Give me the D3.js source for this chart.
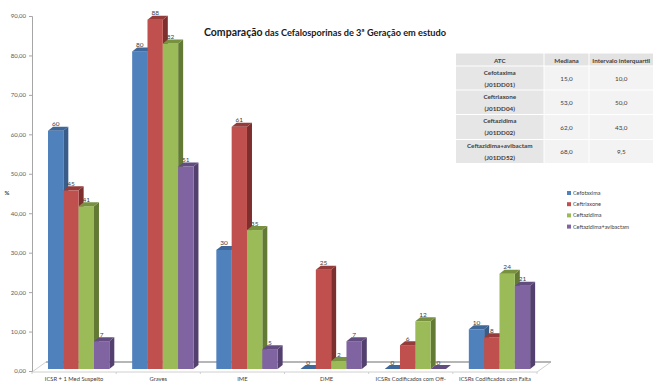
<!DOCTYPE html>
<html>
<head>
<meta charset="utf-8">
<script src="https://cdn.jsdelivr.net/npm/d3@7"></script>
<style>
  html, body { margin: 0; padding: 0; background: #fff; }
  svg { display: block; font-family: Lato, sans-serif; }
</style>
</head>
<body>
<svg id="chart" width="654" height="383"></svg>
<script>
const categories = ["ICSR + 1 Med Suspeito", "Graves", "IME", "DME", "ICSRs Codificados com Off-", "ICSRs Codificados com Falta"];
const seriesNames = ["Cefotaxima", "Ceftriaxone", "Ceftazidima", "Ceftazidima+avibactam"];
const cefotaxima = [60, 80, 30, 0, 0, 10];
const ceftriaxone = [45, 88, 61, 25, 6, 8];
const ceftazidima = [41, 82, 35, 2, 12, 24];
const avibactam = [7, 51, 5, 7, 0, 21];
const seriesValues = [cefotaxima, ceftriaxone, ceftazidima, avibactam];
const yTicks = [0, 10, 20, 30, 40, 50, 60, 70, 80, 90];

const tableHeader = ["ATC", "Mediana", "Intervalo interquartil"];
const tableDrugs = [["Cefotaxima", "(J01DD01)"], ["Ceftriaxone", "(J01DD04)"], ["Ceftazidima", "(J01DD02)"], ["Ceftazidima+avibactam", "(J01DD52)"]];
const tableMedians = ["15,0", "53,0", "62,0", "68,0"];
const tableIqr = ["10,0", "50,0", "43,0", "9,5"];

const colors = ["#4f81bd", "#c0504d", "#9bbb59", "#8064a2"];
const sideColors = ["#385d8a", "#7c2f2d", "#637a35", "#54406f"];
const topColors = ["#3f679a", "#953b39", "#77913f", "#634d80"];

const svg = d3.select("#chart");

// axis scale sits on the wall, bars stand a little further forward
const yAxisScale = d3.scaleLinear().domain([0, 90]).range([371, 16]);
const yBar = d3.scaleLinear().domain([0, 90]).range([369, 11.7]);
const x0 = d3.scaleBand().domain(categories).range([32, 537]);
const x1 = d3.scaleBand().domain(d3.range(4)).range([16, 77.3]);

const depthX = 5, depthY = 4;

// floor
const floorLeft = 32, floorRight = 537;
svg.append("path")
  .attr("d", `M${floorLeft},372L${floorLeft + 14},362L${floorRight + 14},362L${floorRight},372Z`)
  .attr("fill", "#fff").attr("stroke", "#d0d0d0").attr("stroke-width", 1);
svg.append("line")
  .attr("x1", floorLeft + 14).attr("x2", floorRight + 14).attr("y1", 362).attr("y2", 362)
  .attr("stroke", "#a6a6a6").attr("stroke-width", 1.5);

// category ticks along the front edge
svg.append("g").selectAll("line")
  .data(d3.range(categories.length + 1))
  .join("line")
  .attr("x1", i => floorLeft + i * x0.step()).attr("x2", i => floorLeft + i * x0.step())
  .attr("y1", 372).attr("y2", 374)
  .attr("stroke", "#d0d0d0");

// y axis
const yAxis = d3.axisLeft(yAxisScale)
  .tickValues(yTicks)
  .tickSize(3)
  .tickFormat(d => d3.format(".2f")(d).replace(".", ","));
const yG = svg.append("g").attr("transform", "translate(32,0)").call(yAxis);
yG.select(".domain").attr("stroke", "#a6a6a6");
yG.selectAll(".tick line").attr("stroke", "#a6a6a6");
yG.selectAll(".tick text")
  .attr("x", -6)
  .attr("fill", "#595959")
  .style("font-size", "6px")
  .style("font-family", "Lato, sans-serif");

svg.append("text")
  .attr("x", 7).attr("y", 195)
  .attr("text-anchor", "middle")
  .attr("fill", "#404040")
  .style("font-size", "6px").style("font-weight", "700")
  .text("%");

// bars, drawn left to right so each one overlaps its neighbour's side face
const barWidth = x1.bandwidth();
const bars = svg.append("g");
categories.forEach((cat, c) => {
  seriesValues.forEach((vals, s) => {
    const left = x0(cat) + x1(s);
    const right = left + barWidth;
    const top = yBar(vals[c]);
    const base = yBar(0);
    const g = bars.append("g");
    if (vals[c] > 0) {
      g.append("path")
        .attr("d", `M${right},${top}L${right + depthX},${top - depthY}L${right + depthX},${base - depthY}L${right},${base}Z`)
        .attr("fill", sideColors[s]);
      g.append("rect")
        .attr("x", left).attr("y", top)
        .attr("width", barWidth).attr("height", base - top)
        .attr("fill", colors[s]);
    }
    g.append("path")
      .attr("d", `M${left},${top}L${left + depthX},${top - depthY}L${right + depthX},${top - depthY}L${right},${top}Z`)
      .attr("fill", topColors[s]);
  });
});

// value labels go on top of every bar
const labels = svg.append("g");
categories.forEach((cat, c) => {
  seriesValues.forEach((vals, s) => {
    labels.append("text")
      .attr("x", x0(cat) + x1(s) + barWidth / 2)
      .attr("y", yBar(vals[c]) - depthY - 0.5)
      .attr("text-anchor", "middle")
      .attr("fill", "#404040")
      .style("font-size", "6.5px")
      .text(vals[c]);
  });
});

// category labels
svg.append("g").selectAll("text")
  .data(categories)
  .join("text")
  .attr("x", d => x0(d) + x0.bandwidth() / 2)
  .attr("y", 381)
  .attr("text-anchor", "middle")
  .attr("fill", "#404040")
  .style("font-size", "5.8px")
  .text(d => d);

// title
const title = svg.append("text")
  .attr("x", 204).attr("y", 36)
  .attr("fill", "#1a1a1a")
  .style("font-weight", "700");
title.append("tspan").style("font-size", "10.5px").text("Comparação");
title.append("tspan").style("font-size", "9.2px").text(" das Cefalosporinas de 3ª Geração em estudo");

// legend
const legend = svg.append("g").selectAll("g")
  .data(seriesNames)
  .join("g")
  .attr("transform", (d, i) => `translate(567,${191 + i * 11.2})`);
legend.append("rect")
  .attr("width", 4).attr("height", 4)
  .attr("fill", (d, i) => colors[i]);
legend.append("text")
  .attr("x", 6).attr("y", 4)
  .attr("fill", "#404040")
  .style("font-size", "5.5px")
  .text(d => d);

// ATC table
const colEdges = [456, 544.5, 589.5, 654];
const rowEdges = [53.5, 66.5, 90.5, 115, 140, 164];
const table = svg.append("g");

function cell(col, row, fill) {
  table.append("rect")
    .attr("x", colEdges[col]).attr("y", rowEdges[row])
    .attr("width", colEdges[col + 1] - colEdges[col] - 1)
    .attr("height", rowEdges[row + 1] - rowEdges[row] - 1)
    .attr("fill", fill);
}
function cellText(col, yPos, txt, bold) {
  table.append("text")
    .attr("x", (colEdges[col] + colEdges[col + 1] - 1) / 2)
    .attr("y", yPos)
    .attr("text-anchor", "middle")
    .attr("fill", "#404040")
    .style("font-size", "6.3px")
    .style("font-weight", bold ? "700" : "400")
    .text(txt);
}

tableHeader.forEach((h, i) => {
  cell(i, 0, "#e3e3e3");
  cellText(i, 63, h, true);
});
tableDrugs.forEach((lines, i) => {
  const top = rowEdges[i + 1];
  const mid = (top + rowEdges[i + 2]) / 2;
  cell(0, i + 1, "#e6e6e6");
  cell(1, i + 1, "#f3f3f3");
  cell(2, i + 1, "#f3f3f3");
  cellText(0, top + 8, lines[0], true);
  cellText(0, top + 20, lines[1], true);
  cellText(1, mid + 2, tableMedians[i], false);
  cellText(2, mid + 2, tableIqr[i], false);
});
</script>
</body>
</html>
